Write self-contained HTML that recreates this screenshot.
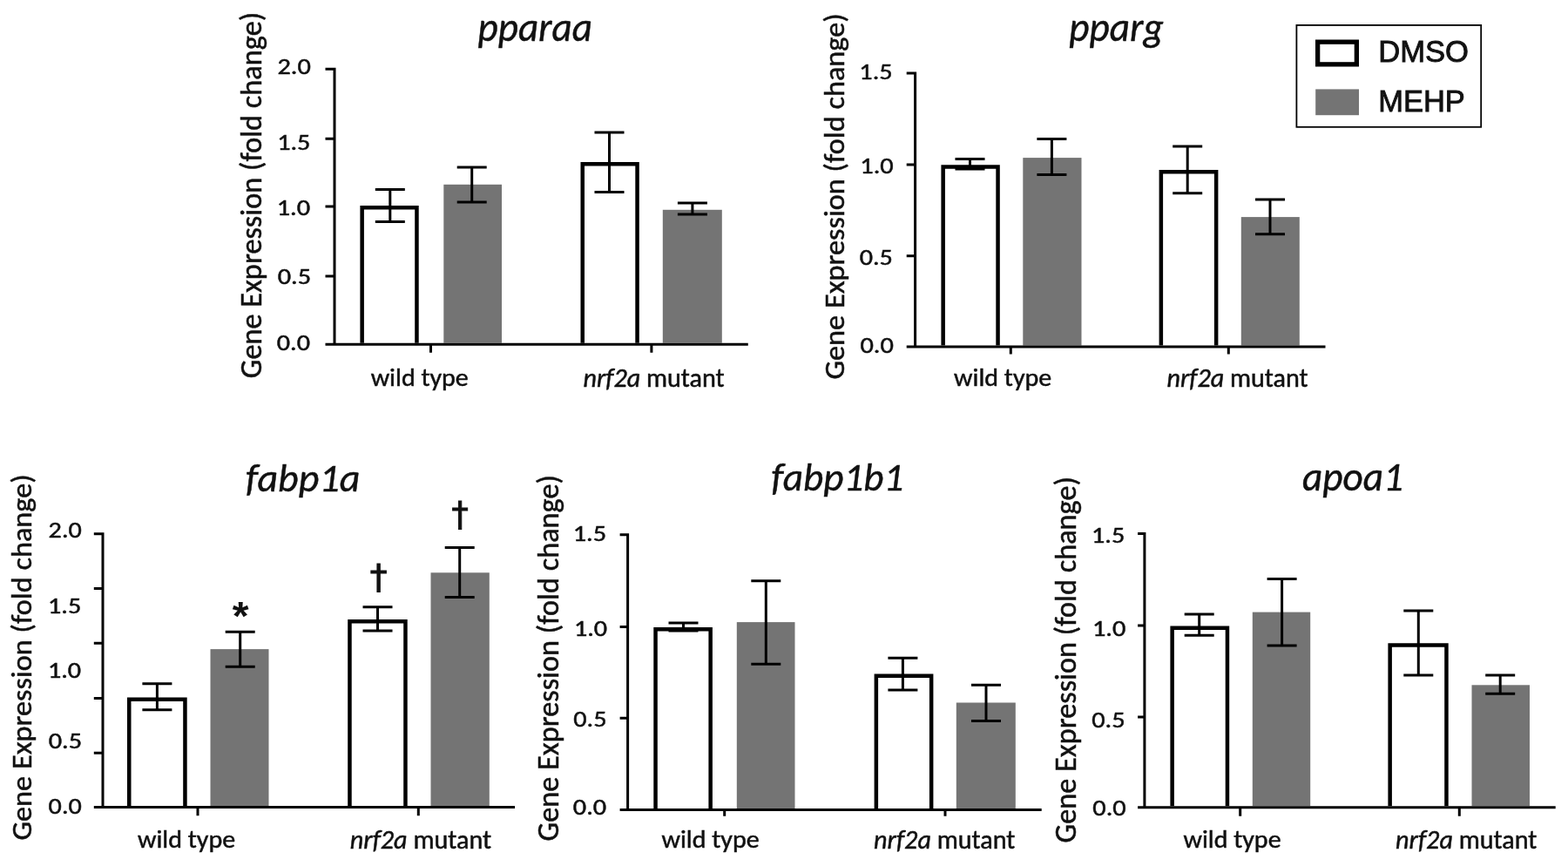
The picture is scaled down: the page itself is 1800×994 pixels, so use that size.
<!DOCTYPE html>
<html><head><meta charset="utf-8"><title>Gene expression: pparaa, pparg, fabp1a, fabp1b1, apoa1</title>
<style>
html,body{margin:0;padding:0;background:#fff;}
body{width:1800px;height:994px;overflow:hidden;}
svg{display:block;}
text{fill:#111;text-anchor:middle;}
.tt{font-family:'Carlito', 'Liberation Sans', sans-serif;font-size:46px;font-style:italic;font-weight:normal;stroke:#111;stroke-width:0.5px;}
.yl{font-family:'Carlito', 'Liberation Sans', sans-serif;font-size:33px;font-style:normal;font-weight:normal;stroke:#111;stroke-width:0.5px;}
.tl{font-family:'Carlito', 'Liberation Sans', sans-serif;font-size:28px;font-style:normal;font-weight:normal;stroke:#111;stroke-width:0.5px;}
.cl{font-family:'Carlito', 'Liberation Sans', sans-serif;font-size:29px;font-style:normal;font-weight:normal;stroke:#111;stroke-width:0.5px;}
.lg{font-family:'Liberation Sans', Arial, sans-serif;font-size:35px;font-style:normal;font-weight:normal;stroke:#111;stroke-width:0.9px;}
.as{font-family:'Liberation Sans', Arial, sans-serif;font-size:40px;font-style:normal;font-weight:bold;}
.dg{font-family:'DejaVu Sans', sans-serif;font-size:40px;font-style:normal;font-weight:normal;stroke:#111;stroke-width:1.0px;}
.e{stroke:#000;stroke-width:3;fill:none;}
.a{stroke:#000;stroke-width:3.0;fill:none;}
</style></head>
<body>
<svg width="1800" height="994" viewBox="0 0 1800 994">
<rect width="1800" height="994" fill="#fff"/>
<path d="M415.65 393.7V238.35H478.45V393.7" fill="#fff" stroke="#000" stroke-width="4.5"/>
<rect x="509.3" y="211.8" width="66.7" height="181.9" fill="#747474"/>
<path d="M668.75 393.7V188.15H731.55V393.7" fill="#fff" stroke="#000" stroke-width="4.5"/>
<rect x="760.8" y="240.8" width="68" height="152.9" fill="#747474"/>
<path d="M447.8 217.6V254.4M430.8 217.6H464.8M430.8 254.4H464.8" class="e"/>
<path d="M541.7 192V231.9M524.7 192H558.7M524.7 231.9H558.7" class="e"/>
<path d="M699.5 152.1V220.6M682.5 152.1H716.5M682.5 220.6H716.5" class="e"/>
<path d="M794.9 233V246M777.9 233H811.9M777.9 246H811.9" class="e"/>
<path d="M384 77.8V395.2M373.5 395.2H858.75M373.5 79.3H384M373.5 159.3H384M373.5 237H384M373.5 317H384M494.5 395.2V404.7M747.9 395.2V404.7" class="a"/>
<path d="M1082.65 396.6V191.45H1145.55V396.6" fill="#fff" stroke="#000" stroke-width="4.5"/>
<rect x="1174.3" y="181.1" width="67.2" height="215.5" fill="#747474"/>
<path d="M1332.85 396.6V197.35H1396.15V396.6" fill="#fff" stroke="#000" stroke-width="4.5"/>
<rect x="1424.8" y="249.1" width="67" height="147.5" fill="#747474"/>
<path d="M1113.5 182.4V194M1096.5 182.4H1130.5M1096.5 194H1130.5" class="e"/>
<path d="M1207.4 159.4V200.5M1190.4 159.4H1224.4M1190.4 200.5H1224.4" class="e"/>
<path d="M1363.2 167.9V221.7M1346.2 167.9H1380.2M1346.2 221.7H1380.2" class="e"/>
<path d="M1458 229.1V268.8M1441 229.1H1475M1441 268.8H1475" class="e"/>
<path d="M1050.6 82.5V398.1M1040.7 398.1H1521.5M1040.7 84H1050.6M1040.7 189H1050.6M1040.7 293.8H1050.6M1160.3 398.1V406.4M1410.3 398.1V406.4" class="a"/>
<path d="M148.25 925.1V802.85H212.45V925.1" fill="#fff" stroke="#000" stroke-width="4.5"/>
<rect x="241.5" y="745.1" width="67" height="180" fill="#747474"/>
<path d="M401.45 925.1V713.25H465.45V925.1" fill="#fff" stroke="#000" stroke-width="4.5"/>
<rect x="494.5" y="657.3" width="67.3" height="267.8" fill="#747474"/>
<path d="M180.4 784.7V814.8M163.4 784.7H197.4M163.4 814.8H197.4" class="e"/>
<path d="M275.7 725.2V765.2M258.7 725.2H292.7M258.7 765.2H292.7" class="e"/>
<path d="M433.5 696.8V724M416.5 696.8H450.5M416.5 724H450.5" class="e"/>
<path d="M527.7 628.5V685.6M510.7 628.5H544.7M510.7 685.6H544.7" class="e"/>
<path d="M118 611.3V926.6M107.8 926.6H591M107.8 612.8H118M107.8 675.4H118M107.8 738.2H118M107.8 801.6H118M107.8 864.3H118M227 926.6V936.2M480.3 926.6V936.2" class="a"/>
<path d="M752.55 928V722.25H815.65V928" fill="#fff" stroke="#000" stroke-width="4.5"/>
<rect x="845.8" y="714.1" width="66.7" height="213.9" fill="#747474"/>
<path d="M1005.85 928V775.85H1069.15V928" fill="#fff" stroke="#000" stroke-width="4.5"/>
<rect x="1097.8" y="806.5" width="68" height="121.5" fill="#747474"/>
<path d="M784.5 715V724M767.5 715H801.5M767.5 724H801.5" class="e"/>
<path d="M879.3 666.7V762.2M862.3 666.7H896.3M862.3 762.2H896.3" class="e"/>
<path d="M1036.4 755.3V792M1019.4 755.3H1053.4M1019.4 792H1053.4" class="e"/>
<path d="M1132 786.2V827.4M1115 786.2H1149M1115 827.4H1149" class="e"/>
<path d="M720.6 612.3V929.5M711.6 929.5H1195.7M711.6 613.8H720.6M711.6 719.5H720.6M711.6 824.3H720.6M831.7 929.5V936.7M1085 929.5V936.7" class="a"/>
<path d="M1345.65 925.3V720.85H1408.95V925.3" fill="#fff" stroke="#000" stroke-width="4.5"/>
<rect x="1437.8" y="702.6" width="66.4" height="222.7" fill="#747474"/>
<path d="M1595.65 925.3V740.55H1660.45V925.3" fill="#fff" stroke="#000" stroke-width="4.5"/>
<rect x="1689.5" y="786.3" width="66.5" height="139" fill="#747474"/>
<path d="M1376.7 705V729.3M1359.7 705H1393.7M1359.7 729.3H1393.7" class="e"/>
<path d="M1471.6 664.4V741M1454.6 664.4H1488.6M1454.6 741H1488.6" class="e"/>
<path d="M1628.3 700.9V775.1M1611.3 700.9H1645.3M1611.3 775.1H1645.3" class="e"/>
<path d="M1722.2 775.1V796.2M1705.2 775.1H1739.2M1705.2 796.2H1739.2" class="e"/>
<path d="M1313.9 611.1V926.8M1306.1 926.8H1785.7M1306.1 612.6H1313.9M1306.1 717.9H1313.9M1306.1 822.9H1313.9M1423.7 926.8V936.8M1675.3 926.8V936.8" class="a"/>
<rect x="1488.4" y="28.9" width="211.8" height="116.9" fill="#fff" stroke="#000" stroke-width="1.8"/>
<rect x="1512.65" y="48.15" width="44.7" height="25.7" fill="#fff" stroke="#000" stroke-width="5.3"/>
<rect x="1510.2" y="102.4" width="49.8" height="29.8" fill="#747474"/>
<text textLength="134.02" lengthAdjust="spacingAndGlyphs" transform="matrix(0.9825 0 0 1.0160 614.25 47.16)" class="tt">pparaa</text>
<text textLength="110.32" lengthAdjust="spacingAndGlyphs" transform="matrix(0.9830 0 0 1.0243 1281.51 47.33)" class="tt">pparg</text>
<text textLength="131.41" lengthAdjust="spacingAndGlyphs" transform="matrix(1.0000 0 0 1.0000 347.65 564.45)" class="tt">fabp1a</text>
<text textLength="154.67" lengthAdjust="spacingAndGlyphs" transform="matrix(0.9834 0 0 1.0036 961.49 562.58)" class="tt">fabp1b1</text>
<text textLength="117.83" lengthAdjust="spacingAndGlyphs" transform="matrix(0.9830 0 0 1.0243 1552.98 562.71)" class="tt">apoa1</text>
<text textLength="404.48" lengthAdjust="spacingAndGlyphs" transform="matrix(1.0586 0 0 1.0393 299.77 224.07) rotate(-90)" class="yl">Gene Expression (fold change)</text>
<text textLength="404.29" lengthAdjust="spacingAndGlyphs" transform="matrix(1.0235 0 0 1.0394 969.11 225.47) rotate(-90)" class="yl">Gene Expression (fold change)</text>
<text textLength="404.29" lengthAdjust="spacingAndGlyphs" transform="matrix(1.0235 0 0 1.0394 35.88 754.48) rotate(-90)" class="yl">Gene Expression (fold change)</text>
<text textLength="404.48" lengthAdjust="spacingAndGlyphs" transform="matrix(1.0586 0 0 1.0393 640.67 755.27) rotate(-90)" class="yl">Gene Expression (fold change)</text>
<text textLength="404.47" lengthAdjust="spacingAndGlyphs" transform="matrix(1.0531 0 0 1.0392 1235.01 757.27) rotate(-90)" class="yl">Gene Expression (fold change)</text>
<text textLength="35.45" lengthAdjust="spacingAndGlyphs" transform="matrix(1.0834 0 0 0.9758 337.57 85.22)" class="tl">2.0</text>
<text textLength="35.43" lengthAdjust="spacingAndGlyphs" transform="matrix(1.0773 0 0 0.9263 337.23 172.40)" class="tl">1.5</text>
<text textLength="35.45" lengthAdjust="spacingAndGlyphs" transform="matrix(1.0848 0 0 0.9590 336.88 247.23)" class="tl">1.0</text>
<text textLength="35.45" lengthAdjust="spacingAndGlyphs" transform="matrix(1.0834 0 0 0.9758 337.82 326.02)" class="tl">0.5</text>
<text textLength="35.43" lengthAdjust="spacingAndGlyphs" transform="matrix(1.0773 0 0 0.9263 336.88 401.82)" class="tl">0.0</text>
<text textLength="35.43" lengthAdjust="spacingAndGlyphs" transform="matrix(1.0773 0 0 0.9263 1005.44 90.92)" class="tl">1.5</text>
<text textLength="35.45" lengthAdjust="spacingAndGlyphs" transform="matrix(1.0848 0 0 0.9590 1006.49 199.07)" class="tl">1.0</text>
<text textLength="35.43" lengthAdjust="spacingAndGlyphs" transform="matrix(1.0773 0 0 0.9263 1005.73 303.73)" class="tl">0.5</text>
<text textLength="35.45" lengthAdjust="spacingAndGlyphs" transform="matrix(1.0848 0 0 0.9590 1006.61 405.22)" class="tl">0.0</text>
<text textLength="35.43" lengthAdjust="spacingAndGlyphs" transform="matrix(1.0773 0 0 0.9263 74.69 617.01)" class="tl">2.0</text>
<text textLength="35.43" lengthAdjust="spacingAndGlyphs" transform="matrix(1.0773 0 0 0.9263 74.15 703.53)" class="tl">1.5</text>
<text textLength="35.43" lengthAdjust="spacingAndGlyphs" transform="matrix(1.0773 0 0 0.9263 74.01 777.73)" class="tl">1.0</text>
<text textLength="35.45" lengthAdjust="spacingAndGlyphs" transform="matrix(1.0848 0 0 0.9590 74.85 859.35)" class="tl">0.5</text>
<text textLength="35.43" lengthAdjust="spacingAndGlyphs" transform="matrix(1.0773 0 0 0.9263 74.69 934.40)" class="tl">0.0</text>
<text textLength="35.45" lengthAdjust="spacingAndGlyphs" transform="matrix(1.0848 0 0 0.9590 676.92 621.23)" class="tl">1.5</text>
<text textLength="35.43" lengthAdjust="spacingAndGlyphs" transform="matrix(1.0773 0 0 0.9263 678.01 729.88)" class="tl">1.0</text>
<text textLength="35.43" lengthAdjust="spacingAndGlyphs" transform="matrix(1.0773 0 0 0.9263 677.42 833.92)" class="tl">0.5</text>
<text textLength="35.45" lengthAdjust="spacingAndGlyphs" transform="matrix(1.0834 0 0 0.9758 677.00 935.42)" class="tl">0.0</text>
<text textLength="35.43" lengthAdjust="spacingAndGlyphs" transform="matrix(1.0773 0 0 0.9263 1272.17 622.82)" class="tl">1.5</text>
<text textLength="35.45" lengthAdjust="spacingAndGlyphs" transform="matrix(1.0848 0 0 0.9590 1273.11 730.22)" class="tl">1.0</text>
<text textLength="35.45" lengthAdjust="spacingAndGlyphs" transform="matrix(1.0834 0 0 0.9758 1272.34 835.22)" class="tl">0.5</text>
<text textLength="35.45" lengthAdjust="spacingAndGlyphs" transform="matrix(1.0848 0 0 0.9590 1273.50 936.23)" class="tl">0.0</text>
<text textLength="108.28" lengthAdjust="spacingAndGlyphs" transform="matrix(1.0355 0 0 1.0000 481.71 442.90)" class="cl">wild type</text>
<text textLength="156.13" lengthAdjust="spacingAndGlyphs" transform="matrix(1.0387 0 0 1.0783 750.50 444.36)" class="cl"><tspan font-style="italic">nrf2a</tspan> mutant</text>
<text textLength="108.28" lengthAdjust="spacingAndGlyphs" transform="matrix(1.0355 0 0 1.0000 1151.11 442.70)" class="cl">wild type</text>
<text textLength="156.13" lengthAdjust="spacingAndGlyphs" transform="matrix(1.0387 0 0 1.0783 1420.50 444.36)" class="cl"><tspan font-style="italic">nrf2a</tspan> mutant</text>
<text textLength="108.28" lengthAdjust="spacingAndGlyphs" transform="matrix(1.0355 0 0 1.0000 214.01 973.00)" class="cl">wild type</text>
<text textLength="156.13" lengthAdjust="spacingAndGlyphs" transform="matrix(1.0403 0 0 1.0568 482.99 974.10)" class="cl"><tspan font-style="italic">nrf2a</tspan> mutant</text>
<text textLength="108.28" lengthAdjust="spacingAndGlyphs" transform="matrix(1.0355 0 0 1.0000 815.52 973.00)" class="cl">wild type</text>
<text textLength="156.17" lengthAdjust="spacingAndGlyphs" transform="matrix(1.0387 0 0 1.0696 1084.22 973.51)" class="cl"><tspan font-style="italic">nrf2a</tspan> mutant</text>
<text textLength="108.33" lengthAdjust="spacingAndGlyphs" transform="matrix(1.0346 0 0 1.0000 1414.53 972.90)" class="cl">wild type</text>
<text textLength="156.17" lengthAdjust="spacingAndGlyphs" transform="matrix(1.0387 0 0 1.0696 1683.22 973.51)" class="cl"><tspan font-style="italic">nrf2a</tspan> mutant</text>
<text textLength="104.98" lengthAdjust="spacingAndGlyphs" transform="matrix(0.9888 0 0 0.9777 1634.11 71.41)" class="lg">DMSO</text>
<text textLength="101.12" lengthAdjust="spacingAndGlyphs" transform="matrix(0.9860 0 0 0.9919 1632.00 128.15)" class="lg">MEHP</text>
<text textLength="15.57" lengthAdjust="spacingAndGlyphs" transform="matrix(1.2067 0 0 1.1467 276.05 723.37)" class="as">*</text>
<text textLength="20.00" lengthAdjust="spacingAndGlyphs" transform="matrix(0.9873 0 0 0.9928 434.49 675.60)" class="dg">&#8224;</text>
<text textLength="20.00" lengthAdjust="spacingAndGlyphs" transform="matrix(0.9632 0 0 0.9853 528.09 603.51)" class="dg">&#8224;</text>
</svg>
</body></html>
